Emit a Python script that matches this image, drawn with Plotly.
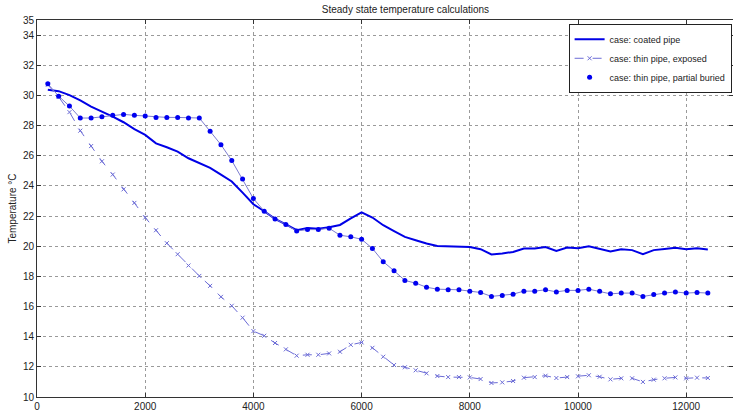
import plotly.graph_objects as go

# Distance along the pipe (m)
distance = list(range(200, 12401, 200))

# Coated pipe temperature (°C)
coated_pipe = [30.38, 30.28, 30.02, 29.67, 29.26, 28.94, 28.59, 28.22, 27.76, 27.38,
               26.82, 26.56, 26.27, 25.83, 25.50, 25.19, 24.74, 24.29, 23.55, 22.78,
               22.32, 21.81, 21.44, 21.06, 21.21, 21.15, 21.26, 21.41, 21.85, 22.25,
               21.90, 21.39, 21.00, 20.62, 20.40, 20.18, 20.02, 20.00, 19.98, 19.95,
               19.80, 19.45, 19.52, 19.62, 19.85, 19.85, 19.95, 19.69, 19.91, 19.87,
               20.00, 19.85, 19.65, 19.80, 19.74, 19.47, 19.74, 19.82, 19.89, 19.80,
               19.87, 19.78]

# Thin pipe, exposed (°C)
thin_exposed = [30.70, 29.90, 28.89, 27.66, 26.64, 25.63, 24.75, 23.77, 22.87, 21.90,
                21.06, 20.20, 19.47, 18.72, 18.03, 17.37, 16.64, 16.05, 15.26, 14.37,
                14.06, 13.58, 13.16, 12.74, 12.80, 12.80, 12.89, 13.00, 13.46, 13.62,
                13.26, 12.67, 12.12, 11.97, 11.77, 11.57, 11.39, 11.32, 11.32, 11.30,
                11.19, 10.93, 10.97, 11.06, 11.28, 11.32, 11.41, 11.26, 11.32, 11.37,
                11.44, 11.34, 11.17, 11.24, 11.24, 11.00, 11.15, 11.24, 11.30, 11.24,
                11.28, 11.26]

# Thin pipe, partially buried (°C)
thin_buried = [30.77, 29.95, 29.29, 28.50, 28.50, 28.59, 28.68, 28.74, 28.68, 28.63,
               28.54, 28.54, 28.54, 28.50, 28.50, 27.62, 26.73, 25.68, 24.46, 23.16,
               22.32, 21.81, 21.44, 21.01, 21.10, 21.10, 21.19, 20.73, 20.62, 20.46,
               19.85, 18.97, 18.37, 17.73, 17.55, 17.28, 17.15, 17.11, 17.11, 17.02,
               16.93, 16.67, 16.73, 16.82, 17.02, 17.02, 17.11, 16.97, 17.07, 17.07,
               17.15, 17.02, 16.84, 16.89, 16.89, 16.67, 16.80, 16.89, 16.97, 16.89,
               16.93, 16.89]

x_ticks = [0, 2000, 4000, 6000, 8000, 10000, 12000]
x_tick_labels = ["0", "2000", "4000", "6000", "8000", "10000", "12000"]
y_ticks = [10, 12, 14, 16, 18, 20, 22, 24, 26, 28, 30, 32, 34, 35]

FONT = "Liberation Sans, Arial, sans-serif"

fig = go.Figure()

fig.add_trace(go.Scatter(
    x=distance, y=coated_pipe, mode="lines", name="case: coated pipe",
    line=dict(color="#0000e6", width=2),
))
fig.add_trace(go.Scatter(
    x=distance, y=thin_exposed, mode="lines+markers", name="case: thin pipe, exposed",
    line=dict(color="#6b6bd6", width=1, dash="dash"),
    marker=dict(symbol="x-thin", size=4, color="#6b6bd6", line=dict(color="#6b6bd6", width=1)),
))
# connecting line for the buried case, drawn behind its markers
fig.add_trace(go.Scatter(
    x=distance, y=thin_buried, mode="lines", showlegend=False, hoverinfo="skip",
    line=dict(color="#7c7cd0", width=1),
))
fig.add_trace(go.Scatter(
    x=distance, y=thin_buried, mode="markers", name="case: thin pipe, partial buried",
    marker=dict(symbol="circle", size=5, color="#0000f0"),
))

axis_common = dict(
    showline=True, linecolor="#333333", linewidth=1, mirror="ticks",
    ticks="inside", ticklen=4, tickcolor="#333333",
    showgrid=True, gridcolor="#9a9a9a", griddash="dot", gridwidth=1,
    zeroline=False, tickfont=dict(family=FONT, size=10, color="#222222"),
)

fig.update_layout(
    width=733, height=411,
    margin=dict(l=37, r=0, t=20, b=14),
    paper_bgcolor="white", plot_bgcolor="white",
    title=dict(text="Steady state temperature calculations", x=388 / 733, xanchor="center",
               xref="paper", y=0.977, yanchor="middle",
               font=dict(family=FONT, size=10, color="#222222")),
    xaxis=dict(range=[0, 12865], tickvals=x_ticks, ticktext=x_tick_labels, **axis_common),
    yaxis=dict(range=[10, 35], tickvals=y_ticks,
               title=dict(text="Temperature °C", standoff=4,
                          font=dict(family=FONT, size=10, color="#222222")),
               **axis_common),
    legend=dict(x=0.998, xanchor="right", y=0.99, yanchor="top",
                bgcolor="white", bordercolor="#222222", borderwidth=1,
                font=dict(family=FONT, size=9, color="#222222"),
                tracegroupgap=0, itemwidth=30),
    showlegend=True,
)

fig.write_html("out.html")
